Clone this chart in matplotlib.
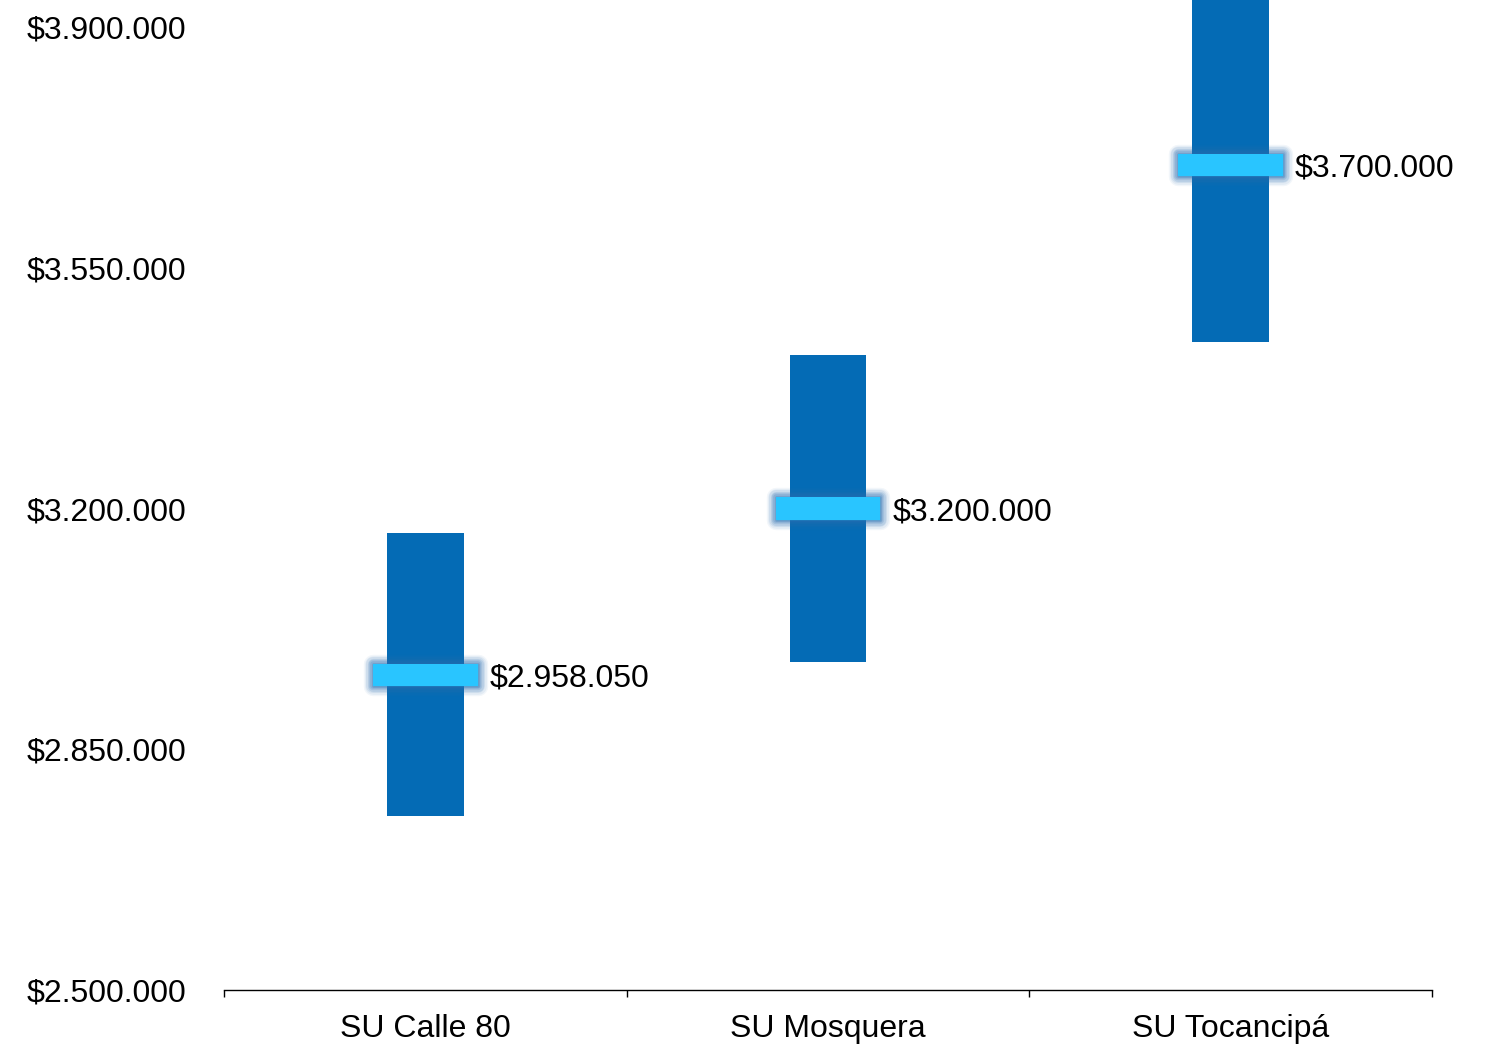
import numpy as np
import matplotlib.pyplot as plt
import matplotlib.patheffects as pe
from matplotlib.patches import Rectangle
from matplotlib.ticker import FuncFormatter, FixedLocator
from matplotlib import rcParams

rcParams['font.family'] = ['Liberation Sans', 'DejaVu Sans']

sedes = ['SU Calle 80', 'SU Mosquera', 'SU Tocancipá']
minimo = [2753000, 2977000, 3442000]
maximo = [3164000, 3423000, 3960000]
promedio = [2958050, 3200000, 3700000]
yticks = [2500000, 2850000, 3200000, 3550000, 3900000]

bar_color = '#046BB5'
mark_color = '#29C5FF'
glow_color = '#2A6FB0'


def pesos(v, pos=None):
    return '$' + format(int(round(v)), ',').replace(',', '.')


fig = plt.figure(figsize=(14.89, 10.48), dpi=100)
ax = fig.add_axes([224/1489., 1 - 990/1048., (1432 - 224)/1489., 990/1048.])

x = np.arange(len(sedes))
alto = np.array(maximo) - np.array(minimo)
ax.bar(x, alto, bottom=minimo, width=0.19, color=bar_color, zorder=2)

# mean markers with a soft glow (stacked round-joined strokes)
mh = 32000
glow = [pe.Stroke(linewidth=lw, foreground=glow_color, alpha=a, joinstyle='round')
        for lw, a in [(14, 0.06), (12, 0.08), (10, 0.1), (8, 0.13), (6, 0.16), (4, 0.2), (2, 0.25)]]
for xi, v in zip(x, promedio):
    r = Rectangle((xi - 0.13, v - mh / 2), 0.26, mh, facecolor=mark_color,
                  edgecolor='none', zorder=4)
    r.set_path_effects(glow + [pe.Normal()])
    ax.add_patch(r)
    ax.text(xi + 0.16, v, pesos(v), ha='left', va='center_baseline', fontsize=23,
            color='black', zorder=5)

ax.set_xlim(-0.5, 2.5)
ax.set_ylim(2500000, 2500000 + 1400000 * 990 / 963.)
ax.yaxis.set_major_locator(FixedLocator(yticks))
ax.yaxis.set_major_formatter(FuncFormatter(pesos))
ax.set_xticks(x)
ax.set_xticklabels(sedes)
ax.set_xticks([-0.5, 0.5, 1.5, 2.5], minor=True)

for s in ['top', 'right', 'left']:
    ax.spines[s].set_visible(False)
ax.spines['bottom'].set_linewidth(1.0)
ax.spines['bottom'].set_color('black')

ax.tick_params(axis='y', length=0, pad=27, labelsize=23)
ax.tick_params(axis='x', which='major', length=0, pad=17, labelsize=23)
ax.tick_params(axis='x', which='minor', length=5, width=1.0, direction='out')

plt.savefig('out.png', dpi=100)
